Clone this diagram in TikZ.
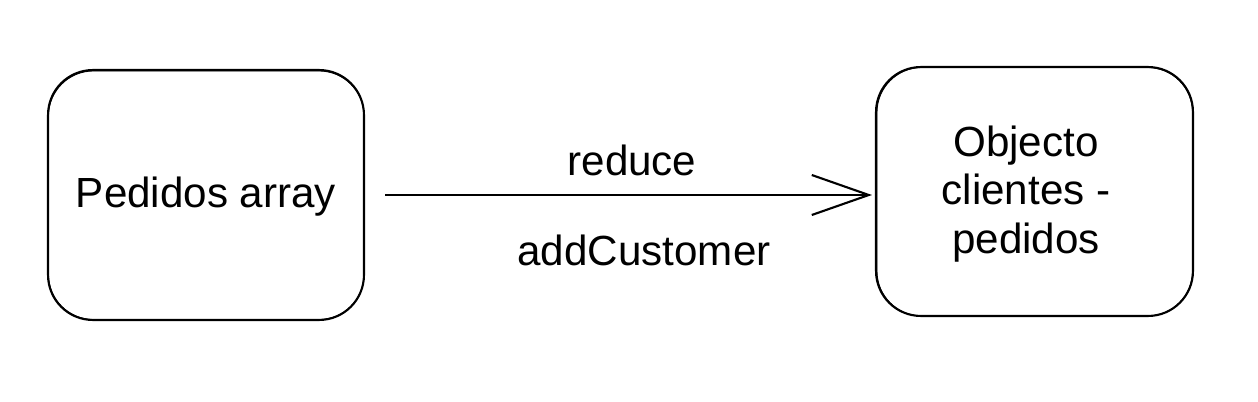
\documentclass[tikz,border=0pt]{standalone}
\usepackage{fontspec}
\setmainfont{Liberation Sans}
\usetikzlibrary{arrows.meta}
\begin{document}
\begin{tikzpicture}[x=0.02cm,y=-0.02cm,
  box/.style={draw=black,line width=1.2pt,rounded corners=0.9cm,minimum width=6.32cm,minimum height=5cm,inner sep=0pt},
  sketch/.style={draw=black,line width=0.5pt,rounded corners=0.9cm},
  lbl/.style={font=\fontsize{24}{28}\selectfont,inner sep=0pt,anchor=base},
  conn/.style={line width=1.2pt,-{Straight Barb[length=1.14cm,width=0.8cm,line width=1.2pt]}}]
\useasboundingbox (0,0) rectangle (1258,402);
\node[box] (a) at (206,195) {};
\node[box,minimum width=6.34cm,minimum height=4.98cm] (b) at (1034.5,191.5) {};
\draw[sketch] ([shift={(1.5,-1.5)}]a.south west) rectangle ([shift={(-1,2)}]a.north east);
\draw[sketch] ([shift={(2,-1)}]b.south west) rectangle ([shift={(-1.5,1.5)}]b.north east);
\node[lbl] (ta) at (206,207) {Pedidos array};
\node[lbl,anchor=center,align=center,font=\fontsize{24}{27.5}\selectfont] (tb) at (1026,194) {Objecto\\clientes -\\pedidos};
\draw[conn] ([xshift=0.4cm]a.east) -- ([xshift=-0.06cm]a.east -| b.west);
\node[lbl] (l1) at (632,175) {reduce};
\node[lbl] (l2) at (644,265) {addCustomer};
\end{tikzpicture}
\end{document}
